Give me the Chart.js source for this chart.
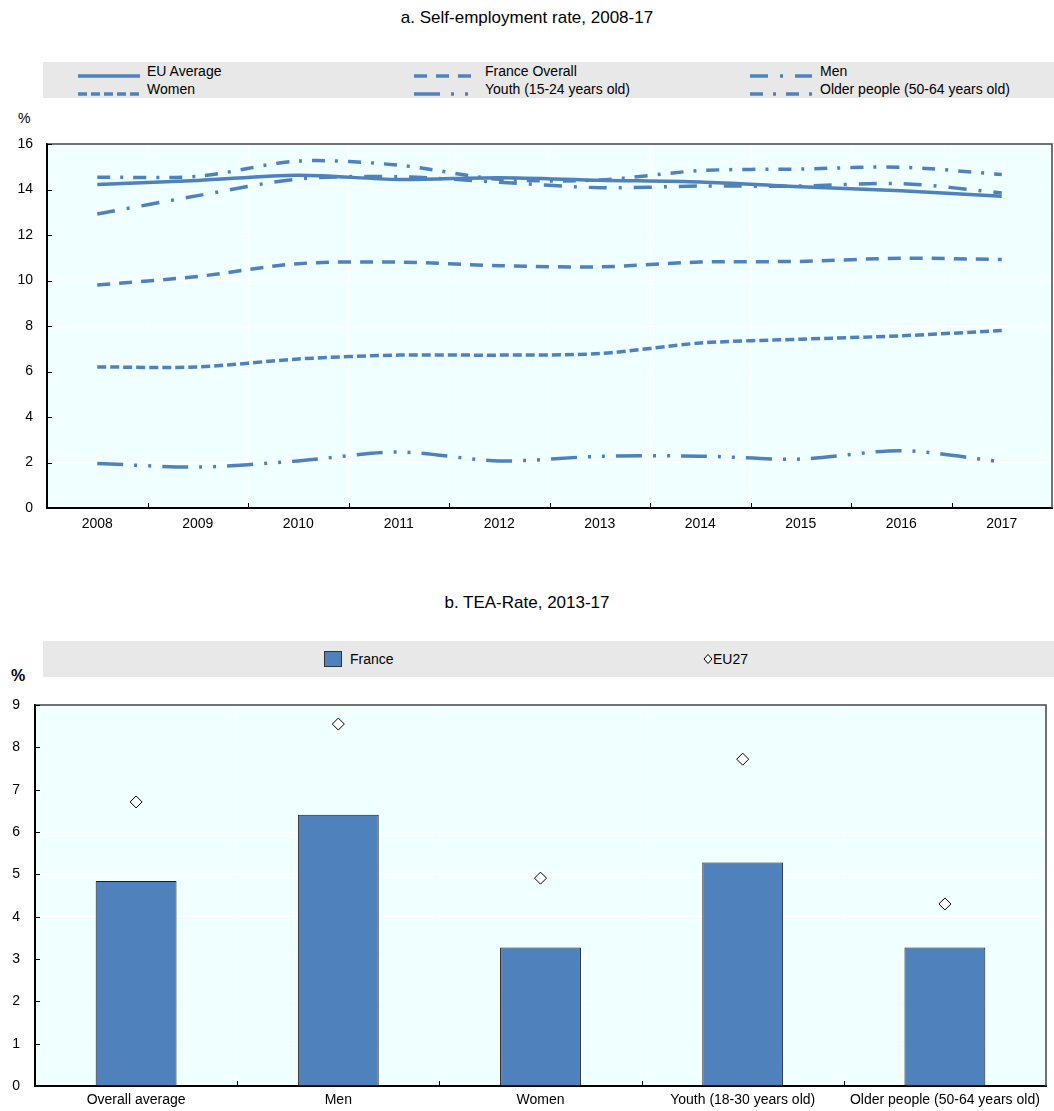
<!DOCTYPE html>
<html>
<head>
<meta charset="utf-8">
<script src="https://cdn.jsdelivr.net/npm/chart.js@4.4.1/dist/chart.umd.min.js"></script>
<style>
  html, body { margin:0; padding:0; background:#fff; }
  body { width:1054px; height:1111px; position:relative; overflow:hidden; font-family:'Liberation Sans', Arial, sans-serif; color:#000; }
  .abs { position:absolute; }
  .title { position:absolute; left:0; width:1054px; text-align:center; font-size:17px; }
  .legend { position:absolute; left:43px; width:1011px; height:36px; background:#e8e8e8; }
  .li { position:absolute; font-size:14px; line-height:16px; white-space:nowrap; }
  canvas { position:absolute; left:0; }
</style>
</head>
<body>
<div class="title" style="top:8px;">a. Self-employment rate, 2008-17</div>
<div class="legend" id="legA" style="top:62px;"></div>
<div class="abs" style="left:18px; top:110px; font-size:14px;">%</div>
<canvas id="cA" width="1054" height="545" style="top:0;"></canvas>

<div class="title" style="top:593px;">b. TEA-Rate, 2013-17</div>
<div class="legend" id="legB" style="top:641px;"></div>
<div class="abs" style="left:11px; top:667px; font-size:16px; font-weight:bold;">%</div>
<canvas id="cB" width="1054" height="531" style="top:580px;"></canvas>

<script>
// ---------- Data: panel a ----------
const years = ['2008','2009','2010','2011','2012','2013','2014','2015','2016','2017'];
const euAverage     = [14.22, 14.40, 14.63, 14.44, 14.52, 14.41, 14.33, 14.12, 13.95, 13.70];
const franceOverall = [9.80, 10.18, 10.74, 10.81, 10.65, 10.60, 10.81, 10.84, 10.98, 10.92];
const menSE         = [12.92, 13.73, 14.46, 14.56, 14.32, 14.08, 14.15, 14.15, 14.26, 13.85];
const womenSE       = [6.20, 6.20, 6.55, 6.72, 6.72, 6.79, 7.25, 7.42, 7.57, 7.80];
const youthSE       = [1.96, 1.80, 2.07, 2.46, 2.07, 2.27, 2.28, 2.15, 2.52, 2.03];
const olderSE       = [14.54, 14.58, 15.25, 15.07, 14.45, 14.42, 14.83, 14.90, 14.98, 14.66];
const seriesNamesA  = ['EU Average','France Overall','Men','Women','Youth (15-24 years old)','Older people (50-64 years old)'];
const yTicksA = [0,2,4,6,8,10,12,14,16];

// ---------- Data: panel b ----------
const teaCategories = ['Overall average','Men','Women','Youth (18-30 years old)','Older people (50-64 years old)'];
const teaFrance = [4.84, 6.41, 3.27, 5.28, 3.27];
const teaEU27   = [6.71, 8.55, 4.91, 7.72, 4.30];
const seriesNamesB = ['France','EU27'];
const yTicksB = [0,1,2,3,4,5,6,7,8,9];

// ---------- Styles ----------
const BLUE = '#4F81BD';
const dashes = [[], [13,9], [18,12,3,12], [9,4], [26,11,3,11,3,11], [13,10,3,10]];
const seriesA = [euAverage, franceOverall, menSE, womenSE, youthSE, olderSE];

Chart.defaults.font.family = "'Liberation Sans', Arial, sans-serif";
Chart.defaults.font.size = 14;
Chart.defaults.color = '#000';

const framePlugin = {
  id: 'frame',
  beforeDraw(chart) {
    const {ctx, chartArea: a} = chart;
    ctx.save();
    ctx.fillStyle = '#F0FFFF';
    ctx.fillRect(a.left, a.top, a.right - a.left, a.bottom - a.top);
    ctx.restore();
  },
  afterDraw(chart) {
    const {ctx, chartArea: a} = chart;
    const xs = chart.scales.x, ys = chart.scales.y;
    ctx.save();
    ctx.strokeStyle = '#444';
    ctx.lineWidth = 1.5;
    ctx.beginPath();
    ctx.moveTo(a.left, a.top); ctx.lineTo(a.right, a.top); ctx.lineTo(a.right, a.bottom);
    ctx.stroke();
    ctx.strokeStyle = '#000';
    ctx.lineWidth = 1;
    ctx.beginPath();
    const n = xs.ticks.length;
    for (let i = 1; i < n; i++) {
      const b = (xs.getPixelForTick(i - 1) + xs.getPixelForTick(i)) / 2;
      ctx.moveTo(Math.round(b) + 0.5, a.bottom);
      ctx.lineTo(Math.round(b) + 0.5, a.bottom - 5);
    }
    ys.ticks.forEach((t, i) => {
      const y = Math.round(ys.getPixelForTick(i)) + 0.5;
      ctx.moveTo(a.left, y); ctx.lineTo(a.left + 5, y);
    });
    ctx.stroke();
    ctx.restore();
  }
};

// ---------- Chart a ----------
new Chart(document.getElementById('cA'), {
  type: 'line',
  data: {
    labels: years,
    datasets: seriesA.map((d, i) => ({
      label: seriesNamesA[i],
      data: d,
      borderColor: BLUE,
      backgroundColor: BLUE,
      borderWidth: 3.5,
      borderDash: dashes[i],
      pointRadius: 0,
      tension: 0.3,
      fill: false
    }))
  },
  options: {
    responsive: false,
    animation: false,
    layout: { padding: { top: 144, left: 0, right: 2, bottom: 7 } },
    plugins: { legend: { display: false }, title: { display: false }, tooltip: { enabled: false } },
    scales: {
      x: {
        type: 'category',
        offset: true,
        grid: { offset: true, color: '#ffffff', lineWidth: 1, drawTicks: false },
        border: { color: '#000', width: 2 },
        ticks: { padding: 8, maxRotation: 0, autoSkip: false },
        afterFit(s) { s.height = 30; }
      },
      y: {
        min: 0, max: 16,
        afterBuildTicks(s) { s.ticks = yTicksA.map(v => ({ value: v })); },
        grid: { color: '#ffffff', lineWidth: 1, drawTicks: false },
        border: { color: '#000', width: 2 },
        ticks: { padding: 14 },
        afterFit(s) { s.width = 47; }
      }
    }
  },
  plugins: [framePlugin]
});

// ---------- Chart b ----------
new Chart(document.getElementById('cB'), {
  type: 'bar',
  data: {
    labels: teaCategories,
    datasets: [
      {
        type: 'line',
        label: seriesNamesB[1],
        data: teaEU27,
        showLine: false,
        pointStyle: 'rectRot',
        pointRadius: 6,
        pointBackgroundColor: '#ffffff',
        pointBorderColor: '#000',
        pointBorderWidth: 1,
        order: 0
      },
      {
        type: 'bar',
        label: seriesNamesB[0],
        data: teaFrance,
        backgroundColor: BLUE,
        borderColor: '#1a1a1a',
        borderWidth: 1,
        barPercentage: 0.4,
        categoryPercentage: 1.0,
        order: 1
      }
    ]
  },
  options: {
    responsive: false,
    animation: false,
    layout: { padding: { top: 125, left: 0, right: 8, bottom: 0 } },
    plugins: { legend: { display: false }, title: { display: false }, tooltip: { enabled: false } },
    scales: {
      x: {
        type: 'category',
        offset: true,
        grid: { offset: true, color: '#ffffff', lineWidth: 1, drawTicks: false },
        border: { color: '#000', width: 2 },
        ticks: { padding: 6, maxRotation: 0, autoSkip: false },
        afterFit(s) { s.height = 25; }
      },
      y: {
        min: 0, max: 9,
        afterBuildTicks(s) { s.ticks = yTicksB.map(v => ({ value: v })); },
        grid: { color: '#ffffff', lineWidth: 1, drawTicks: false },
        border: { color: '#000', width: 2 },
        ticks: { padding: 15 },
        afterFit(s) { s.width = 35; }
      }
    }
  },
  plugins: [framePlugin]
});

// ---------- HTML legends ----------
function lineSample(dash, w) {
  return '<svg width="' + w + '" height="8" style="vertical-align:middle"><line x1="0" y1="4" x2="' + w +
    '" y2="4" stroke="' + BLUE + '" stroke-width="3.5" stroke-dasharray="' + (dash.length ? dash.join(',') : 'none') + '"/></svg>';
}
const legA = document.getElementById('legA');
const colLine = [35, 371, 707];
const colText = [104, 442, 777];
const rowTop = [1, 19];
seriesNamesA.forEach((name, i) => {
  const col = [0, 1, 2, 0, 1, 2][i];
  const row = i < 3 ? 0 : 1;
  const s = document.createElement('div');
  s.className = 'li';
  s.style.left = colLine[col] + 'px';
  s.style.top = (rowTop[row] + 4) + 'px';
  s.innerHTML = lineSample(dashes[i], 62);
  legA.appendChild(s);
  const t = document.createElement('div');
  t.className = 'li';
  t.style.left = colText[col] + 'px';
  t.style.top = rowTop[row] + 'px';
  t.textContent = name;
  legA.appendChild(t);
});

const legB = document.getElementById('legB');
legB.innerHTML =
  '<div class="li" style="left:281px;top:10px;"><svg width="18" height="16"><rect x="0.5" y="0.5" width="17" height="15" fill="' + BLUE + '" stroke="#333"/></svg></div>' +
  '<div class="li" style="left:307px;top:10px;">' + seriesNamesB[0] + '</div>' +
  '<div class="li" style="left:660px;top:10px;"><svg width="10" height="16"><polygon points="5,3.5 9,8 5,12.5 1,8" fill="#fff" stroke="#000" stroke-width="1"/></svg></div>' +
  '<div class="li" style="left:670px;top:10px;">' + seriesNamesB[1] + '</div>';
</script>
</body>
</html>
